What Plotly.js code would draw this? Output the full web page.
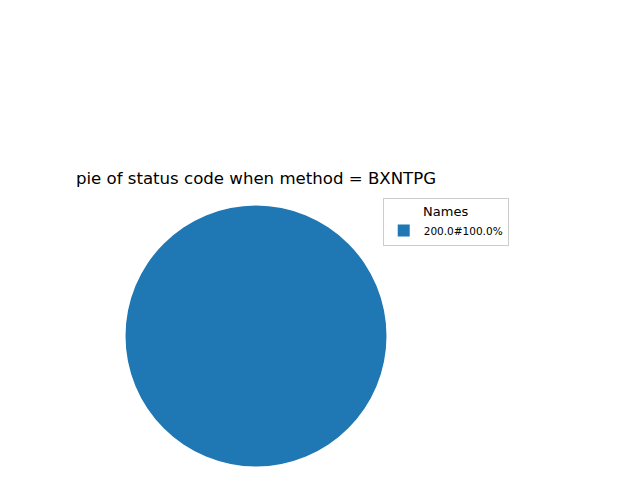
<!DOCTYPE html>
<html>
<head>
<meta charset="utf-8">
<script src="https://cdn.plot.ly/plotly-3.0.1.min.js"></script>
<style>html,body{margin:0;padding:0;background:#fff;}#chart{width:640px;height:480px;}</style>
</head>
<body>
<div id="chart"></div>
<script>
const labels = ["200.0#100.0%"];
const values = [100.0];
const colors = ["#1f77b4"];
const chartTitle = "pie of status code when method = BXNTPG";
const legendTitle = "Names";

const trace = {
  type: "pie",
  labels: labels,
  values: values,
  marker: {colors: colors, line: {width: 0}},
  textinfo: "none",
  hoverinfo: "none",
  sort: false,
  direction: "counterclockwise",
  domain: {x: [0.1961, 0.6039], y: [0.0281, 0.5719]}
};

const layout = {
  width: 640, height: 480,
  margin: {l: 0, r: 0, t: 0, b: 0},
  paper_bgcolor: "#fff",
  font: {family: "DejaVu Sans", color: "#000"},
  title: {
    text: chartTitle,
    font: {family: "DejaVu Sans", size: 16.6, color: "#000"},
    xref: "paper", yref: "paper",
    x: 0.4, xanchor: "center",
    y: 0.629, yanchor: "middle"
  },
  showlegend: true,
  legend: {
    x: 0.598, y: 0.5875, xanchor: "left", yanchor: "top",
    bordercolor: "#cccccc", borderwidth: 1, bgcolor: "#fff",
    font: {family: "DejaVu Sans", size: 10.5, color: "#000"},
    title: {text: legendTitle, side: "top center", font: {family: "DejaVu Sans", size: 13, color: "#000"}}
  }
};

Plotly.newPlot("chart", [trace], layout, {staticPlot: true, displayModeBar: false});
</script>
</body>
</html>
